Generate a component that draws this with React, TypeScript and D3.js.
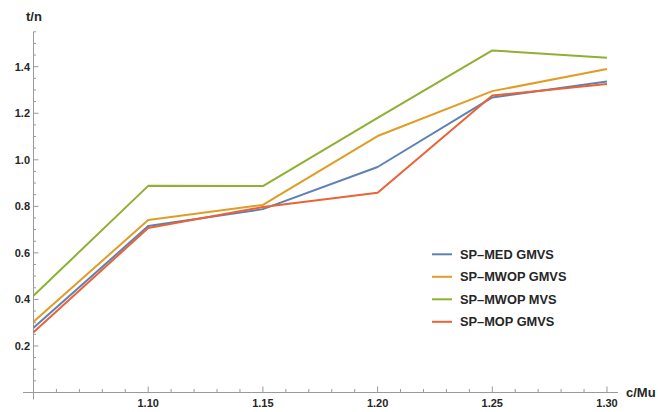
import React from "react";
import * as d3 from "d3";

const xValues = [1.05, 1.1, 1.15, 1.2, 1.25, 1.3];
const seriesNames = ["SP\u2013MED GMVS", "SP\u2013MWOP GMVS", "SP\u2013MWOP MVS", "SP\u2013MOP GMVS"];
const seriesColors = ["#5E81B5", "#E19C24", "#8FB032", "#EB6235"];
const medGmvs = [0.278, 0.715, 0.788, 0.969, 1.268, 1.336];
const mwopGmvs = [0.304, 0.741, 0.806, 1.102, 1.295, 1.39];
const mwopMvs = [0.416, 0.888, 0.887, 1.18, 1.47, 1.438];
const mopGmvs = [0.259, 0.707, 0.797, 0.858, 1.276, 1.326];
const xTickLabels = [1.1, 1.15, 1.2, 1.25, 1.3];
const yTickLabels = [0.2, 0.4, 0.6, 0.8, 1.0, 1.2, 1.4];

const W = 658;
const H = 412;

export default function App() {
  const x = d3.scaleLinear().domain([1.05, 1.3]).range([33.5, 607]);
  const y = d3.scaleLinear().domain([0, 1.4]).range([392.5, 66.7]);
  const allSeries = [medGmvs, mwopGmvs, mwopMvs, mopGmvs];
  const line = d3
    .line<number>()
    .x((_, i) => x(xValues[i]))
    .y((d) => y(d));

  const xMinor = d3.range(0, 26).map((i) => 1.05 + i * 0.01);
  const yMinor = d3.range(0, 32).map((i) => i * 0.05);
  const axisColor = "#9a9a9a";
  const textColor = "#262626";
  const font = "'Liberation Sans', Arial, sans-serif";

  return (
    <svg
      width={W}
      height={H}
      style={{ position: "absolute", left: 0, top: 0, background: "#fff" }}
      fontFamily={font}
    >
      {/* axes */}
      <line x1={23} x2={618} y1={y(0)} y2={y(0)} stroke={axisColor} strokeWidth={1} />
      <line x1={x(1.05)} x2={x(1.05)} y1={y(0) + 7} y2={y(1.55)} stroke={axisColor} strokeWidth={1} />
      {xMinor.map((v, i) => {
        const major = i % 5 === 0;
        return (
          <line
            key={"xt" + i}
            x1={x(v)}
            x2={x(v)}
            y1={y(0)}
            y2={y(0) - (major ? 6 : 3.5)}
            stroke={axisColor}
            strokeWidth={1}
          />
        );
      })}
      {yMinor.map((v, i) => {
        const major = i % 4 === 0;
        return (
          <line
            key={"yt" + i}
            x1={x(1.05)}
            x2={x(1.05) + (major ? 5 : 2.5)}
            y1={y(v)}
            y2={y(v)}
            stroke={axisColor}
            strokeWidth={1}
          />
        );
      })}
      {xTickLabels.map((v) => (
        <text
          key={"xl" + v}
          x={x(v)}
          y={407}
          textAnchor="middle"
          fontSize={11}
          fontWeight="bold"
          fill={textColor}
        >
          {v.toFixed(2)}
        </text>
      ))}
      {yTickLabels.map((v) => (
        <text
          key={"yl" + v}
          x={30}
          y={y(v)}
          dy="0.35em"
          textAnchor="end"
          fontSize={11}
          fontWeight="bold"
          fill={textColor}
        >
          {v.toFixed(1)}
        </text>
      ))}
      <text x={26} y={21} fontSize={13} fontWeight="bold" fill={textColor}>
        t/n
      </text>
      <text x={626} y={397} fontSize={13} fontWeight="bold" fill={textColor}>
        c/Mu
      </text>

      {/* series */}
      {allSeries.map((s, i) => (
        <path
          key={"s" + i}
          d={line(s) || ""}
          fill="none"
          stroke={seriesColors[i]}
          strokeWidth={2}
          strokeLinejoin="round"
        />
      ))}

      {/* legend */}
      {seriesNames.map((name, i) => {
        const ly = 254.3 + i * 22.5;
        return (
          <g key={"lg" + i}>
            <line x1={432} x2={452} y1={ly} y2={ly} stroke={seriesColors[i]} strokeWidth={2} />
            <text x={460} y={ly} dy="0.35em" fontSize={12.8} fontWeight="bold" fill={textColor}>
              {name}
            </text>
          </g>
        );
      })}
    </svg>
  );
}
